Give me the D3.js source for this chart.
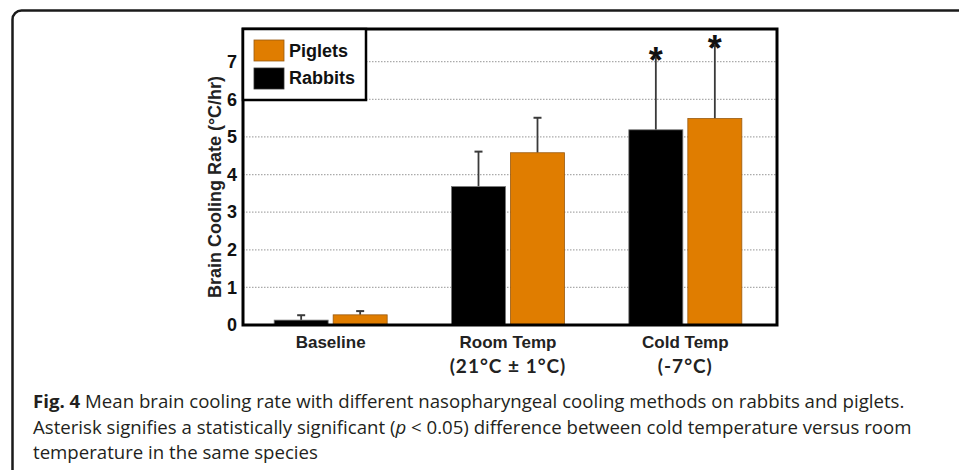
<!DOCTYPE html>
<html>
<head>
<meta charset="utf-8">
<script src="https://cdn.jsdelivr.net/npm/d3@7"></script>
<style>
  body { margin: 0; background: #fff; }
  svg { display: block; }
</style>
</head>
<body>
<div id="chart"></div>
<script>
// categories and series
var groups = ["Baseline", "Room Temp", "Cold Temp"]
var groupSub = ["", "(21°C ± 1°C)", "(-7°C)"]
var seriesNames = ["Rabbits", "Piglets"]
var rabbits = [0.13, 3.68, 5.19]
var rabbitErr = [0.13, 0.93, 1.92]
var piglets = [0.27, 4.58, 5.49]
var pigletErr = [0.10, 0.93, 1.93]
var significant = [false, false, true]
var yTicks = [0, 1, 2, 3, 4, 5, 6, 7]

var colors = { "Rabbits": "#000000", "Piglets": "#e07d00" }
var strokes = { "Rabbits": "#777777", "Piglets": "#9a5a10" }
var arial = "'Liberation Sans', Arial, Helvetica, sans-serif"

var W = 959, H = 470

var svg = d3.select("#chart")
  .append("svg")
    .attr("width", W)
    .attr("height", H)

// outer panel frame (top-left rounded corner, runs off page)
svg.append("rect")
  .attr("x", 12.5).attr("y", 10.5)
  .attr("width", 1000).attr("height", 600)
  .attr("rx", 9)
  .attr("fill", "none")
  .attr("stroke", "#1a1a1a")
  .attr("stroke-width", 2.5)

// plot area
var plot = { left: 243, right: 777, top: 29, bottom: 325 }

var y = d3.scaleLinear()
  .domain([0, 7.87])
  .range([plot.bottom, plot.top])

var x0 = d3.scaleBand()
  .domain(groups)
  .range([242, 774])
  .padding(0)

var clusterW = 113
var x1 = d3.scaleBand()
  .domain(seriesNames)
  .range([0, clusterW])
  .paddingInner(5 / 59)

// dotted gridlines
svg.append("g")
  .selectAll("line")
  .data(yTicks.filter(function(d) { return d > 0 }))
  .enter().append("line")
    .attr("x1", plot.left)
    .attr("x2", plot.right)
    .attr("y1", function(d) { return y(d) })
    .attr("y2", function(d) { return y(d) })
    .attr("stroke", "#aaaaaa")
    .attr("stroke-width", 1.2)
    .attr("stroke-dasharray", "1.5,1.5")

// flatten data into bar rows
var rows = []
groups.forEach(function(g, i) {
  rows.push({ group: g, series: "Rabbits", value: rabbits[i], err: rabbitErr[i], sig: significant[i] })
  rows.push({ group: g, series: "Piglets", value: piglets[i], err: pigletErr[i], sig: significant[i] })
})

function barX(d) {
  return x0(d.group) + (x0.bandwidth() - clusterW) / 2 + x1(d.series)
}
function barMid(d) { return barX(d) + x1.bandwidth() / 2 }

// error bars (upper only)
var eb = svg.append("g")
eb.selectAll("line.stem")
  .data(rows)
  .enter().append("line")
    .attr("class", "stem")
    .attr("x1", barMid).attr("x2", barMid)
    .attr("y1", function(d) { return y(d.value) })
    .attr("y2", function(d) { return y(d.value + d.err) })
    .attr("stroke", "#3a3a3a")
    .attr("stroke-width", 1.8)
eb.selectAll("line.cap")
  .data(rows)
  .enter().append("line")
    .attr("class", "cap")
    .attr("x1", function(d) { return barMid(d) - 4 })
    .attr("x2", function(d) { return barMid(d) + 4 })
    .attr("y1", function(d) { return y(d.value + d.err) })
    .attr("y2", function(d) { return y(d.value + d.err) })
    .attr("stroke", "#3a3a3a")
    .attr("stroke-width", 2)

// bars
svg.append("g")
  .selectAll("rect")
  .data(rows)
  .enter().append("rect")
    .attr("x", barX)
    .attr("y", function(d) { return y(d.value) })
    .attr("width", x1.bandwidth())
    .attr("height", function(d) { return y(0) - y(d.value) })
    .attr("fill", function(d) { return colors[d.series] })
    .attr("stroke", function(d) { return strokes[d.series] })
    .attr("stroke-width", 0.8)

// significance asterisks
svg.append("g")
  .selectAll("text")
  .data(rows.filter(function(d) { return d.sig }))
  .enter().append("text")
    .attr("x", barMid)
    .attr("y", function(d) { return y(d.value + d.err) + 15 })
    .attr("text-anchor", "middle")
    .attr("font-family", arial)
    .attr("font-weight", "bold")
    .attr("font-size", 36)
    .attr("fill", "#111")
    .text("*")

// plot frame
svg.append("rect")
  .attr("x", plot.left).attr("y", plot.top)
  .attr("width", plot.right - plot.left)
  .attr("height", plot.bottom - plot.top)
  .attr("fill", "none")
  .attr("stroke", "#000")
  .attr("stroke-width", 3)

// y axis labels
var yAxis = svg.append("g")
  .attr("transform", "translate(" + plot.left + ",0)")
  .call(d3.axisLeft(y).tickValues(yTicks).tickSize(0).tickPadding(6).tickFormat(d3.format("d")))
yAxis.select(".domain").remove()
yAxis.selectAll("text")
  .attr("font-family", arial)
  .attr("font-weight", "bold")
  .attr("font-size", 18)
  .attr("fill", "#111")

// y axis title
svg.append("text")
  .attr("transform", "translate(221,187) rotate(-90)")
  .attr("text-anchor", "middle")
  .attr("font-family", arial)
  .attr("font-weight", "bold")
  .attr("font-size", 18)
  .attr("fill", "#222")
  .text("Brain Cooling Rate (°C/hr)")

// x category labels
var xl = svg.append("g")
xl.selectAll("text.main")
  .data(groups)
  .enter().append("text")
    .attr("class", "main")
    .attr("x", function(d) { return x0(d) + x0.bandwidth() / 2 })
    .attr("y", 348)
    .attr("text-anchor", "middle")
    .attr("font-family", arial)
    .attr("font-weight", "bold")
    .attr("font-size", 17)
    .attr("fill", "#222")
    .text(function(d) { return d })
xl.selectAll("text.sub")
  .data(groups)
  .enter().append("text")
    .attr("class", "sub")
    .attr("x", function(d) { return x0(d) + x0.bandwidth() / 2 })
    .attr("y", 373)
    .attr("text-anchor", "middle")
    .attr("font-family", "Lato, sans-serif")
    .attr("font-weight", "bold")
    .attr("font-size", 19)
    .attr("letter-spacing", 1)
    .attr("fill", "#222")
    .text(function(d, i) { return groupSub[i] })

// legend
var lg = svg.append("g")
lg.append("rect")
  .attr("x", plot.left).attr("y", plot.top)
  .attr("width", 123).attr("height", 71)
  .attr("fill", "#fff")
  .attr("stroke", "#000")
  .attr("stroke-width", 2.5)
var legendOrder = ["Piglets", "Rabbits"]
legendOrder.forEach(function(s, i) {
  lg.append("rect")
    .attr("x", 254).attr("y", 40 + i * 28)
    .attr("width", 30).attr("height", 21)
    .attr("fill", colors[s])
    .attr("stroke", s == "Piglets" ? "#9a5a10" : "#333")
    .attr("stroke-width", 0.8)
  lg.append("text")
    .attr("x", 289).attr("y", 57 + i * 27)
    .attr("font-family", arial)
    .attr("font-weight", "bold")
    .attr("font-size", 18)
    .attr("fill", "#111")
    .text(s)
})

// caption - size the font so line 1 spans the same width as the figure
var cap = svg.append("g")
  .attr("font-family", "'Open Sans', sans-serif")
  .attr("font-size", 19)
  .attr("fill", "#231f20")
var c1 = cap.append("text").attr("x", 33).attr("y", 408)
c1.append("tspan").attr("font-weight", "bold").text("Fig. 4")
c1.append("tspan").text(" Mean brain cooling rate with different nasopharyngeal cooling methods on rabbits and piglets.")
var c2 = cap.append("text").attr("x", 33).attr("y", 434)
c2.append("tspan").text("Asterisk signifies a statistically significant (")
c2.append("tspan").attr("font-style", "italic").text("p")
c2.append("tspan").text(" < 0.05) difference between cold temperature versus room")
cap.append("text").attr("x", 33).attr("y", 459)
  .text("temperature in the same species")

var natural = c1.node().getComputedTextLength()
var fs = 19 * 872 / natural
cap.attr("font-size", fs.toFixed(2))
</script>
</body>
</html>
